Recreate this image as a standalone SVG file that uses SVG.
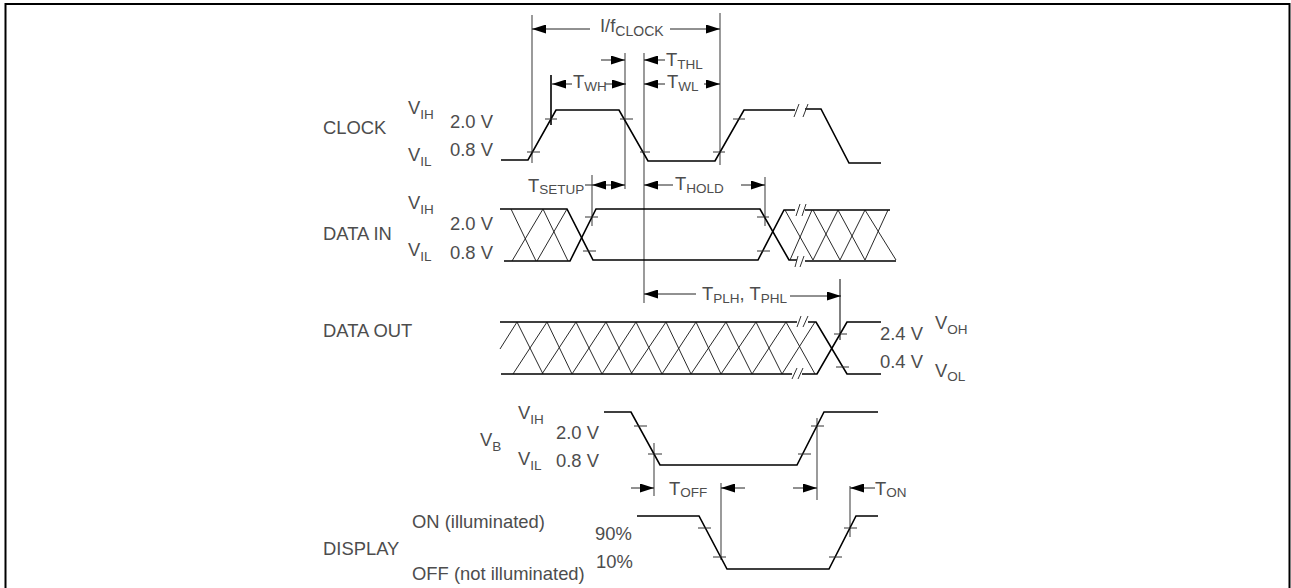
<svg xmlns="http://www.w3.org/2000/svg" width="1291" height="588" viewBox="0 0 1291 588">
<style>
text{font-family:"Liberation Sans",Arial,sans-serif;font-size:18.4px;fill:#4d4d4d}
tspan{font-size:13.5px}
.w{fill:none;stroke:#000;stroke-width:1.6;stroke-linejoin:miter}
.h{fill:none;stroke:#111;stroke-width:.9}
.t{fill:none;stroke:#333;stroke-width:1}
.g{fill:none;stroke:#666;stroke-width:1.3}
.a{fill:none;stroke:#222;stroke-width:1}
.ae{marker-end:url(#ah)}
</style>
<defs>
<marker id="ah" markerUnits="userSpaceOnUse" markerWidth="15" markerHeight="9" refX="14" refY="4.5" orient="auto"><path d="M0 0L14 4.5L0 9Z" fill="#000"/></marker>
</defs>
<rect width="1291" height="588" fill="#fff"/>
<path id="frame" d="M5.5 588V4H1289.5V588" fill="none" stroke="#000" stroke-width="2"/>
<g id="connectors">
<path class="g" d="M532 15V163M720 13V165M625 53V189M644 53V303M592 175V226M765 177V226M654 443V496M817 418V500M721 483V560M850 486V537"/>
<path d="M551 75V125" fill="none" stroke="#000" stroke-width="1.6"/>
<path d="M840 279V340" fill="none" stroke="#000" stroke-width="1"/>
<path class="a ae" d="M590 29H532"/><path class="a ae" d="M670 29H720"/>
<path class="a ae" d="M601 60H625"/><path class="a ae" d="M665 60H644"/>
<path class="a ae" d="M572 84H552"/><path class="a ae" d="M605 84H626"/>
<path class="a ae" d="M665 84H644"/><path class="a ae" d="M704 84H720"/>
<path class="a ae" d="M610 185H592"/><path class="a ae" d="M610 185H625"/>
<path class="a" d="M585 185H592"/>
<path class="a ae" d="M673 185H644"/><path class="a ae" d="M741 185H765"/>
<path class="a ae" d="M696 294H644"/><path class="a ae" d="M790 296H841"/>
<path class="a ae" d="M631 488H654"/><path class="a ae" d="M745 488H721"/>
<path class="a ae" d="M793 488H817"/><path class="a ae" d="M875 488H850"/>
</g>
<g id="clock">
<path class="w" d="M501 160H528L556 110H619L648 161H715L744 110H795M805 109H821L849 163H881"/>
<path class="t" d="M527 152H540M545 119H557M620 119H633M640 152H650M713 152H725M733 119H745"/>
<path class="t" d="M794 117L799 104M803 117L808 104"/>
<text x="323" y="134">CLOCK</text>
<text x="408" y="114">V<tspan dy="5">IH</tspan></text>
<text x="450" y="128">2.0 V</text>
<text x="408" y="161">V<tspan dy="5">IL</tspan></text>
<text x="450" y="156">0.8 V</text>
<text x="600" y="32">I/f<tspan dy="4" style="font-size:14px">CLOCK</tspan></text>
<text x="666" y="66">T<tspan dy="3">THL</tspan></text>
<text x="573" y="88">T<tspan dy="3">WH</tspan></text>
<text x="667" y="88">T<tspan dy="3">WL</tspan></text>
</g>
<g id="data-in">
<path class="w" d="M500 209H567L593 260H758L784 210H795M805 210H890"/>
<path class="w" d="M504 261H570L596 209H760L789 260H797M805 261H896"/>
<path class="h" d="M511 209L536 261M543 209L568 261M512 261L543 209M537 261L567 209M785 210L813 260M813 210L840 260M838 210L865 260M865 210L896 260M790 260L812 210M813 260L838 210M840 260L865 210M865 260L888 210"/>
<path class="t" d="M585 217H598M757 217H769M583 251H596M757 251H770"/>
<path class="t" d="M796 216L800 204M802 216L806 204M795 267L798 256M800 267L804 256"/>
<text x="323" y="240">DATA IN</text>
<text x="408" y="209">V<tspan dy="5">IH</tspan></text>
<text x="450" y="230">2.0 V</text>
<text x="408" y="256">V<tspan dy="5">IL</tspan></text>
<text x="450" y="259">0.8 V</text>
<text x="528" y="192">T<tspan dy="2">SETUP</tspan></text>
<text x="675" y="190">T<tspan dy="3">HOLD</tspan></text>
</g>
<g id="data-out">
<path class="w" d="M500 322H797M808 322H816L847 374H881"/>
<path class="w" d="M501 374H792M802 374H817L847 322H881"/>
<path class="h" d="M500 349L517 322M517 322L543 374M547 322L572 374M576 322L602 374M606 322L632 374M636 322L662 374M666 322L691 374M696 322L721 374M726 322L752 374M756 322L782 374M786 322L815 374M513 374L547 322M542 374L576 322M572 374L606 322M602 374L636 322M631 374L666 322M662 374L696 322M691 374L726 322M721 374L756 322M752 374L786 322M782 374L815 322"/>
<path class="t" d="M834 334H847M836 367H849"/>
<path class="t" d="M797 327L801 316M803 327L808 316M792 379L797 368M798 379L803 368"/>
<text x="323" y="337">DATA OUT</text>
<text x="880" y="340">2.4 V</text>
<text x="880" y="368">0.4 V</text>
<text x="935" y="329">V<tspan dy="5">OH</tspan></text>
<text x="935" y="377">V<tspan dy="4">OL</tspan></text>
<text x="702" y="300">T<tspan dy="3">PLH</tspan><tspan dy="-3" style="font-size:18.4px">, T</tspan><tspan dy="3">PHL</tspan></text>
</g>
<g id="vb">
<path class="w" d="M604 412H631L660 465H797L824 412H878"/>
<path class="t" d="M634 426H647M811 426H824M648 454H662M798 454H811"/>
<text x="518" y="419">V<tspan dy="5">IH</tspan></text>
<text x="556" y="439">2.0 V</text>
<text x="480" y="446">V<tspan dy="5">B</tspan></text>
<text x="518" y="465">V<tspan dy="5">IL</tspan></text>
<text x="556" y="467">0.8 V</text>
<text x="669" y="495">T<tspan dy="2">OFF</tspan></text>
<text x="875" y="495">T<tspan dy="2">ON</tspan></text>
</g>
<g id="display">
<path class="w" d="M637 516H699L727 569H829L856 516H878"/>
<path class="t" d="M698 528H711M844 528H857M713 557H726M829 557H842"/>
<text x="323" y="555">DISPLAY</text>
<text x="412" y="528">ON (illuminated)</text>
<text x="412" y="580">OFF (not illuminated)</text>
<text x="595" y="540">90%</text>
<text x="596" y="568">10%</text>
</g>
</svg>
